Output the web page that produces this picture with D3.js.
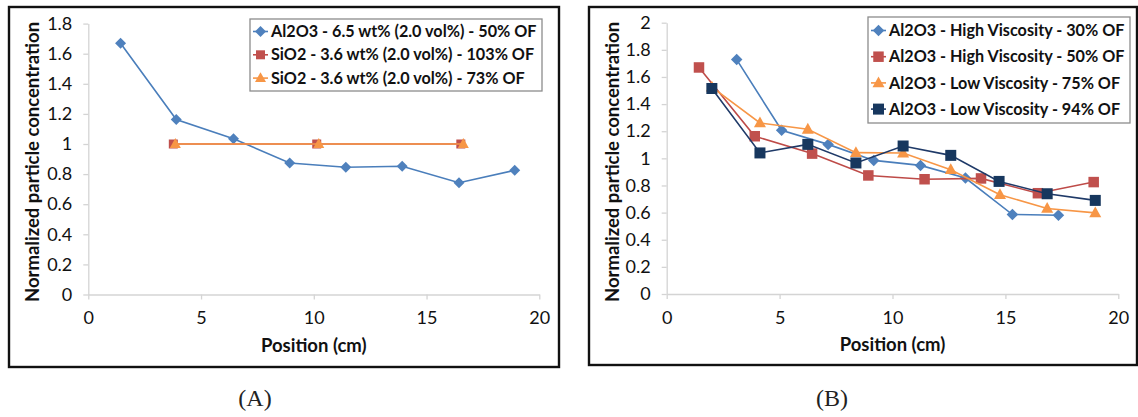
<!DOCTYPE html>
<html>
<head>
<meta charset="utf-8">
<script src="https://cdn.jsdelivr.net/npm/d3@7"></script>
<style>
  html, body { margin: 0; padding: 0; background: #fff; }
  svg { display: block; }
</style>
</head>
<body>
<svg id="fig" width="1138" height="417"></svg>
<script>
// ---- Panel A data: particle concentration vs position ----
const posA_Al2O3 = [1.43, 3.90, 6.44, 8.93, 11.42, 13.92, 16.44, 18.91];
const conA_Al2O3 = [1.67, 1.163, 1.035, 0.874, 0.846, 0.852, 0.743, 0.825];
const posA_SiO2_103 = [3.77, 10.13, 16.52];
const conA_SiO2_103 = [1.0, 1.0, 1.0];
const posA_SiO2_73 = [3.86, 10.22, 16.63];
const conA_SiO2_73 = [1.0, 1.0, 1.0];
const labelsA = [
  "Al2O3 - 6.5 wt% (2.0 vol%) - 50% OF",
  "SiO2 - 3.6 wt% (2.0 vol%) - 103% OF",
  "SiO2 - 3.6 wt% (2.0 vol%) - 73% OF"
];
const yTicksA = [0, 0.2, 0.4, 0.6, 0.8, 1, 1.2, 1.4, 1.6, 1.8];

// ---- Panel B data ----
const posB_HV30 = [3.10, 5.09, 7.15, 9.17, 11.24, 13.23, 15.31, 17.35];
const conB_HV30 = [1.728, 1.207, 1.103, 0.985, 0.948, 0.855, 0.586, 0.580];
const posB_HV50 = [1.43, 3.90, 6.44, 8.93, 11.42, 13.92, 16.44, 18.91];
const conB_HV50 = [1.67, 1.163, 1.035, 0.874, 0.846, 0.852, 0.743, 0.825];
const posB_LV75 = [2.0, 4.13, 6.25, 8.38, 10.47, 12.58, 14.76, 16.85, 18.98];
const conB_LV75 = [1.525, 1.261, 1.214, 1.042, 1.039, 0.916, 0.732, 0.630, 0.598];
const posB_LV94 = [2.0, 4.13, 6.25, 8.38, 10.47, 12.58, 14.72, 16.85, 18.98];
const conB_LV94 = [1.515, 1.040, 1.103, 0.966, 1.091, 1.022, 0.830, 0.739, 0.690];
const labelsB = [
  "Al2O3 - High Viscosity - 30% OF",
  "Al2O3 - High Viscosity - 50% OF",
  "Al2O3 - Low Viscosity - 75% OF",
  "Al2O3 - Low Viscosity - 94% OF"
];
const yTicksB = [0, 0.2, 0.4, 0.6, 0.8, 1, 1.2, 1.4, 1.6, 1.8, 2];

const xTicks = [0, 5, 10, 15, 20];
const xTitle = "Position (cm)";
const yTitle = "Normalized particle concentration";
const captions = ["(A)", "(B)"];

const COL = {
  blue: "#4a7ebb",
  blueMark: "#4f81bd",
  red: "#be4b48",
  redMark: "#c0504d",
  orange: "#f79646",
  navy: "#1f3a68",
  navyMark: "#17375e"
};
const FONT = "Lato, 'Open Sans', sans-serif";

const svg = d3.select("#fig");

function zip(xs, ys) { return xs.map((x, i) => ({ x, y: ys[i] })); }

function marker(g, shape, color, cx, cy, size) {
  if (shape === "diamond") {
    const r = size / 2;
    g.append("path")
      .attr("d", `M${cx},${cy - r}L${cx + r},${cy}L${cx},${cy + r}L${cx - r},${cy}Z`)
      .attr("fill", color);
  } else if (shape === "square") {
    g.append("rect")
      .attr("x", cx - size / 2).attr("y", cy - size / 2)
      .attr("width", size).attr("height", size)
      .attr("fill", color);
  } else if (shape === "triangle") {
    const h = size * 0.9;
    g.append("path")
      .attr("d", `M${cx},${cy - h * 0.6}L${cx + size / 2},${cy + h * 0.4}L${cx - size / 2},${cy + h * 0.4}Z`)
      .attr("fill", color);
  }
}

function panel(cfg) {
  const g = svg.append("g");

  // outer frame
  g.append("rect")
    .attr("x", cfg.frame[0]).attr("y", cfg.frame[1])
    .attr("width", cfg.frame[2]).attr("height", cfg.frame[3])
    .attr("fill", "#fff").attr("stroke", "#111").attr("stroke-width", 2.4);

  const x = d3.scaleLinear().domain([0, 20]).range(cfg.xRange);
  const y = d3.scaleLinear().domain([0, cfg.yMax]).range(cfg.yRange);

  // axes
  const xAxis = d3.axisBottom(x).tickValues(xTicks).tickSize(5).tickSizeOuter(0).tickPadding(12);
  const yAxis = d3.axisLeft(y).tickValues(cfg.yTicks).tickSize(5).tickSizeOuter(0).tickPadding(11)
    .tickFormat(d => d3.format("~g")(d));

  const gx = g.append("g").attr("transform", `translate(0,${cfg.yRange[0]})`).call(xAxis);
  const gy = g.append("g").attr("transform", `translate(${cfg.xRange[0]},0)`).call(yAxis);
  [gx, gy].forEach(a => {
    a.select(".domain").attr("stroke", "#d4d4d4").attr("stroke-width", 1.3);
    a.selectAll(".tick line").attr("stroke", "#d4d4d4").attr("stroke-width", 1.3);
    a.selectAll(".tick text").attr("fill", "#111").attr("font-size", 18).attr("font-family", FONT);
  });

  // axis titles
  g.append("text")
    .attr("x", (cfg.xRange[0] + cfg.xRange[1]) / 2).attr("y", cfg.xTitleY)
    .attr("text-anchor", "middle").attr("font-family", FONT).attr("font-weight", 700)
    .attr("font-size", 18.5).attr("fill", "#111").text(xTitle);
  g.append("text")
    .attr("transform", `translate(${cfg.yTitleX},${cfg.yTitleCY}) rotate(-90)`)
    .attr("text-anchor", "middle").attr("font-family", FONT).attr("font-weight", 700)
    .attr("font-size", 18.5).attr("fill", "#111").text(yTitle);

  // series
  const line = d3.line().x(d => x(d.x)).y(d => y(d.y));
  cfg.series.forEach(s => {
    const pts = zip(s.xs, s.ys);
    g.append("path").datum(pts).attr("d", line)
      .attr("fill", "none").attr("stroke", s.line).attr("stroke-width", s.lw || 1.6);
    pts.forEach(p => marker(g, s.shape, s.mark, x(p.x), y(p.y), s.size));
  });

  // legend
  const L = cfg.legend;
  g.append("rect").attr("x", L.x).attr("y", L.y).attr("width", L.w).attr("height", L.h)
    .attr("fill", "#fff").attr("stroke", "#8c8c8c").attr("stroke-width", 1.3);
  cfg.series.forEach((s, i) => {
    const cy = L.y + L.first + i * L.step;
    g.append("line").attr("x1", L.x + 3).attr("x2", L.x + 18).attr("y1", cy).attr("y2", cy)
      .attr("stroke", s.line).attr("stroke-width", 1.6);
    marker(g, s.shape, s.mark, L.x + 10.5, cy, s.size);
    g.append("text").attr("x", L.x + 21).attr("y", cy).attr("dy", "0.35em")
      .attr("font-family", FONT).attr("font-weight", 700).attr("font-size", L.fs)
      .attr("fill", "#111").text(cfg.labels[i]);
  });

  // caption
  svg.append("text")
    .attr("x", cfg.captionX).attr("y", 406)
    .attr("text-anchor", "middle").attr("font-family", "'Liberation Serif', 'DejaVu Serif', serif")
    .attr("font-size", 24).attr("fill", "#222").text(cfg.caption);
}

panel({
  frame: [9, 7, 550, 360],
  xRange: [88.3, 539.3],
  yRange: [294.5, 23.6],
  yMax: 1.8,
  yTicks: yTicksA,
  xTitleY: 352,
  yTitleX: 39,
  yTitleCY: 162,
  labels: labelsA,
  series: [
    { xs: posA_Al2O3, ys: conA_Al2O3, line: COL.blue, mark: COL.blueMark, shape: "diamond", size: 11 },
    { xs: posA_SiO2_103, ys: conA_SiO2_103, line: COL.red, mark: COL.redMark, shape: "square", size: 9 },
    { xs: posA_SiO2_73, ys: conA_SiO2_73, line: COL.orange, mark: COL.orange, shape: "triangle", size: 11 }
  ],
  legend: { x: 250, y: 19, w: 292, h: 72, first: 12.5, step: 23.3, fs: 16.2 },
  caption: captions[0],
  captionX: 255
});

panel({
  frame: [589, 7, 548, 358],
  xRange: [666.7, 1118.3],
  yRange: [294, 22.7],
  yMax: 2,
  yTicks: yTicksB,
  xTitleY: 351,
  yTitleX: 619,
  yTitleCY: 162,
  labels: labelsB,
  series: [
    { xs: posB_HV30, ys: conB_HV30, line: COL.blue, mark: COL.blueMark, shape: "diamond", size: 11.5 },
    { xs: posB_HV50, ys: conB_HV50, line: COL.red, mark: COL.redMark, shape: "square", size: 10.5 },
    { xs: posB_LV75, ys: conB_LV75, line: COL.orange, mark: COL.orange, shape: "triangle", size: 12 },
    { xs: posB_LV94, ys: conB_LV94, line: COL.navy, mark: COL.navyMark, shape: "square", size: 11 }
  ],
  legend: { x: 868, y: 17, w: 262, h: 106, first: 13.5, step: 26.2, fs: 16.2 },
  caption: captions[1],
  captionX: 832
});
</script>
</body>
</html>
